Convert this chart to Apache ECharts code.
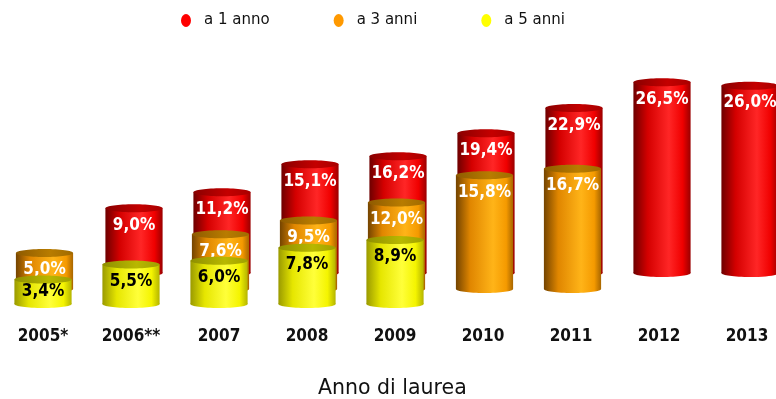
<!DOCTYPE html>
<html>
<head>
<meta charset="utf-8">
<script src="https://cdn.jsdelivr.net/npm/echarts@6/dist/echarts.min.js"></script>
<style>
  html, body { margin: 0; padding: 0; background: #ffffff; }
  #chart { width: 776px; height: 399px; }
</style>
</head>
<body>
<div id="chart"></div>
<script>
// Anno di laurea (categories) and share of graduates per time since degree
const years = ['2005*', '2006**', '2007', '2008', '2009', '2010', '2011', '2012', '2013'];
const unAnno = [null, 9.0, 11.2, 15.1, 16.2, 19.4, 22.9, 26.5, 26.0];
const treAnni = [5.0, null, 7.6, 9.5, 12.0, 15.8, 16.7, null, null];
const cinqueAnni = [3.4, 5.5, 6.0, 7.8, 8.9, null, null, null, null];
const seriesNames = ['a 1 anno', 'a 3 anni', 'a 5 anni'];
const axisTitle = 'Anno di laurea';

const LABEL_FONT = "'DejaVu Sans Condensed', 'DejaVu Sans', sans-serif";

// cylinder shading: side gradient, darker top cap, label colour
const looks = [
  {
    base: '#ff0000',
    side: [[0, '#6e0000'], [0.25, '#d40000'], [0.62, '#ff2626'], [0.86, '#f00000'], [1, '#9a0000']],
    cap: [[0, '#8a0000'], [0.6, '#c40000'], [1, '#a80000']],
    text: '#ffffff'
  },
  {
    base: '#ff9900',
    side: [[0, '#744400'], [0.25, '#e08600'], [0.65, '#ffb418'], [0.88, '#f59a00'], [1, '#a86600']],
    cap: [[0, '#8e5a00'], [0.6, '#b87c00'], [1, '#a06a00']],
    text: '#ffffff'
  },
  {
    base: '#ffff00',
    side: [[0, '#9a9a00'], [0.25, '#e6e600'], [0.62, '#ffff3a'], [0.86, '#f4f400'], [1, '#b4b400']],
    cap: [[0, '#8e8e00'], [0.6, '#b8b800'], [1, '#a0a000']],
    text: '#000000'
  }
];

function fmt(v) {
  return v.toFixed(1).replace('.', ',') + '%';
}

function cylinder(look) {
  return function (params, api) {
    const v = api.value(1);
    if (v == null || isNaN(v)) return;
    const top = api.coord([api.value(0), v]);
    const base = api.coord([api.value(0), 0]);
    const w = api.size([1, 0])[0] * 0.65;
    const rx = w / 2, ry = 4;
    const h = base[1] - top[1];
    const side = new echarts.graphic.LinearGradient(0, 0, 1, 0,
      look.side.map(s => ({ offset: s[0], color: s[1] })));
    const cap = new echarts.graphic.LinearGradient(0, 0, 1, 0,
      look.cap.map(s => ({ offset: s[0], color: s[1] })));
    return {
      type: 'group',
      children: [
        { type: 'ellipse', shape: { cx: top[0], cy: base[1], rx: rx, ry: ry }, style: { fill: side } },
        { type: 'rect', shape: { x: top[0] - rx, y: top[1], width: w, height: h }, style: { fill: side } },
        { type: 'ellipse', shape: { cx: top[0], cy: top[1], rx: rx, ry: ry }, style: { fill: cap } },
        {
          type: 'text',
          x: top[0],
          y: top[1] + Math.min(17, h / 2),
          style: {
            text: fmt(v),
            fill: look.text,
            font: 'bold 17px ' + LABEL_FONT,
            align: 'center',
            verticalAlign: 'middle'
          }
        }
      ]
    };
  };
}

const values = [unAnno, treAnni, cinqueAnni];
// back row (1 anno) to front row (5 anni); plot area runs past the right edge
const rows = [
  { left: 2, top: 57 },
  { left: 0.5, top: 73 },
  { left: -1, top: 88 }
];

const option = {
  animation: false,
  backgroundColor: '#ffffff',
  legend: {
    data: seriesNames,
    left: 181,
    top: 13,
    padding: 0,
    itemGap: 64,
    itemWidth: 26,
    itemHeight: 13,
    icon: 'path://M5,0A5,6.5,0,1,1,5,13A5,6.5,0,1,1,5,0Z',
    textStyle: { fontFamily: 'DejaVu Sans', fontSize: 15, color: '#111111' }
  },
  grid: rows.map(r => ({
    left: r.left,
    top: r.top,
    width: 792,
    height: 216,
    outerBoundsMode: 'none',
    containLabel: false
  })),
  xAxis: rows.map((r, i) => ({
    type: 'category',
    gridIndex: i,
    data: years,
    axisLine: { show: false },
    axisTick: { show: false },
    axisLabel: i === 2 ? {
      show: true,
      interval: 0,
      margin: 24,
      color: '#111111',
      fontWeight: 'bold',
      fontSize: 17,
      fontFamily: LABEL_FONT
    } : { show: false }
  })),
  yAxis: rows.map((r, i) => ({
    type: 'value',
    gridIndex: i,
    min: 0,
    max: 30,
    show: false,
    splitLine: { show: false }
  })),
  graphic: [{
    type: 'text',
    left: 318,
    top: 378,
    style: {
      text: axisTitle,
      fill: '#111111',
      font: '20.5px DejaVu Sans'
    }
  }],
  series: seriesNames.map((name, i) => ({
    name: name,
    type: 'custom',
    xAxisIndex: i,
    yAxisIndex: i,
    itemStyle: { color: looks[i].base },
    renderItem: cylinder(looks[i]),
    encode: { x: 0, y: 1 },
    data: values[i].map((v, k) => [k, v == null ? '-' : v])
  }))
};

const chart = echarts.init(document.getElementById('chart'), null, { renderer: 'canvas' });
chart.setOption(option);
</script>
</body>
</html>
